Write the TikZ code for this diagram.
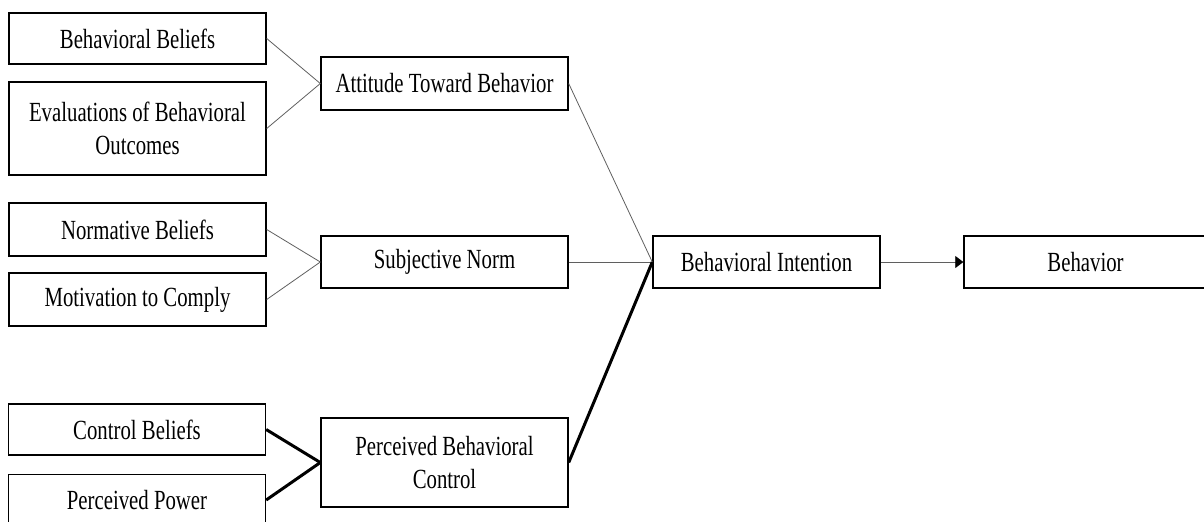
\documentclass[tikz,border=0pt]{standalone}
\usepackage{fontspec}
\setmainfont{Liberation Serif}[FakeStretch=0.75]
\usepackage{tikz}
\usetikzlibrary{arrows.meta}
\definecolor{linegray}{RGB}{95,95,95}

\begin{document}
\begin{tikzpicture}[x=0.5pt, y=-0.5pt,
    box/.style = {draw, line width=0.7pt, inner sep=0pt, align=center,
                  font=\fontsize{13.85}{16.6}\selectfont},
    lbox/.style = {box, minimum width=128.5pt, minimum height=25.5pt},
    mbox/.style = {box, minimum width=123.5pt, minimum height=26pt},
    thin link/.style = {draw=linegray, line width=0.4pt},
    thick link/.style = {draw=black, line width=1.5pt}]
    \clip (0,0) rectangle (1204,521);

    % beliefs on the left
    \node[lbox] (bb) at (137.5,38.5) {Behavioral Beliefs};
    \node[lbox, minimum height=46.5pt] (ev) at (137.5,128.5) {Evaluations of Behavioral\\Outcomes};
    \node[lbox, minimum height=26.5pt] (nb) at (137.5,229.5) {Normative Beliefs};
    \node[lbox, minimum height=26.5pt] (mc) at (137.5,299.5) {Motivation to Comply};
    \node[lbox] (cb) at (137,429.5) {Control Beliefs};
    \node[lbox] (pp) at (137,500) {Perceived Power};

    % middle column
    \node[mbox, minimum height=26.5pt] (att) at (444.5,83.5) {Attitude Toward Behavior};
    \node[mbox] (sn) at (444.5,262) {Subjective Norm};
    \node[mbox, minimum height=44.5pt] (pbc) at (444.5,462.5) {Perceived Behavioral\\Control};

    % right side
    \node[box, minimum width=113.5pt, minimum height=26pt] (bi) at (766.5,262) {Behavioral Intention};
    \node[box, minimum width=121.5pt, minimum height=26pt] (beh) at (1085.5,262) {Behavior};

    \draw[thin link] (bb.east) -- (att.west);
    \draw[thin link] (ev.east) -- (att.west);
    \draw[thin link] (nb.east) -- (sn.west);
    \draw[thin link] (mc.east) -- (sn.west);
    \draw[thick link] (cb.east) -- (pbc.west);
    \draw[thick link] (pp.east) -- (pbc.west);

    \draw[thin link] (att.east) -- (bi.west);
    \draw[thin link] (sn.east) -- (bi.west);
    \draw[thick link] (pbc.east) -- (bi.west);
    \draw[thin link, -{Triangle[length=4pt, width=6pt, color=black]}] (bi.east) -- (beh.west);

    % \draw[help lines, step=50] (0,0) grid (1204,521);
\end{tikzpicture}
\end{document}
